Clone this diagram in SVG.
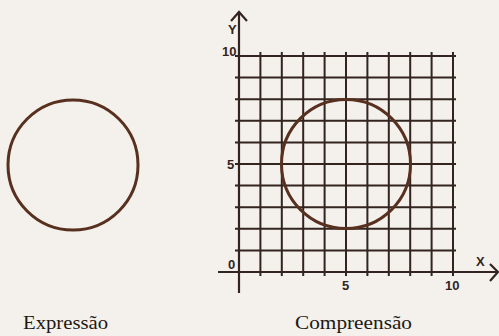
<svg xmlns="http://www.w3.org/2000/svg" width="499" height="336" viewBox="0 0 499 336">
<style>
.grid{stroke:#33241f;stroke-width:2;fill:none}
.axis{stroke:#33241f;stroke-width:2.2;fill:none}
.circ{stroke:#58301f;stroke-width:3;fill:none}
.num{font-family:"Liberation Sans",Arial,sans-serif;font-weight:bold;font-size:13px;fill:#33241f}
.cap{font-family:"Liberation Serif","Times New Roman",serif;font-size:19px;fill:#1e1814}
</style>
<rect width="499" height="336" fill="#f4f1ec"/>
<g id="expressao">
<circle class="circ" cx="73" cy="165" r="65"/>
<text class="cap" x="23" y="329" textLength="85" lengthAdjust="spacingAndGlyphs">Expressão</text>
</g>
<g id="compreensao">
<g id="grid">
<path class="grid" d="M235 56H456M235 77.6H456M235 99.2H456M235 120.8H456M235 142.4H456M235 164H456M235 185.6H456M235 207.2H456M235 228.8H456M235 250.4H456"/>
<path class="grid" d="M260.4 52V276M281.8 52V276M303.2 52V276M324.6 52V276M346 52V276M367.4 52V276M388.8 52V276M410.2 52V276M431.6 52V276M453 52V276"/>
</g>
<g id="axes">
<path class="axis" d="M239 293V13M231 21L239 12L247 21"/>
<path class="axis" d="M218 272H498M490 264L498 272L490 281"/>
</g>
<circle class="circ" cx="346" cy="164" r="64.5"/>
<text class="num" x="228" y="34">Y</text>
<text class="num" x="222" y="56">10</text>
<text class="num" x="227" y="169">5</text>
<text class="num" x="228" y="269">0</text>
<text class="num" x="342" y="290">5</text>
<text class="num" x="445" y="290">10</text>
<text class="num" x="476" y="266">X</text>
<text class="cap" x="295" y="329" textLength="117" lengthAdjust="spacingAndGlyphs">Compreensão</text>
</g>
</svg>
